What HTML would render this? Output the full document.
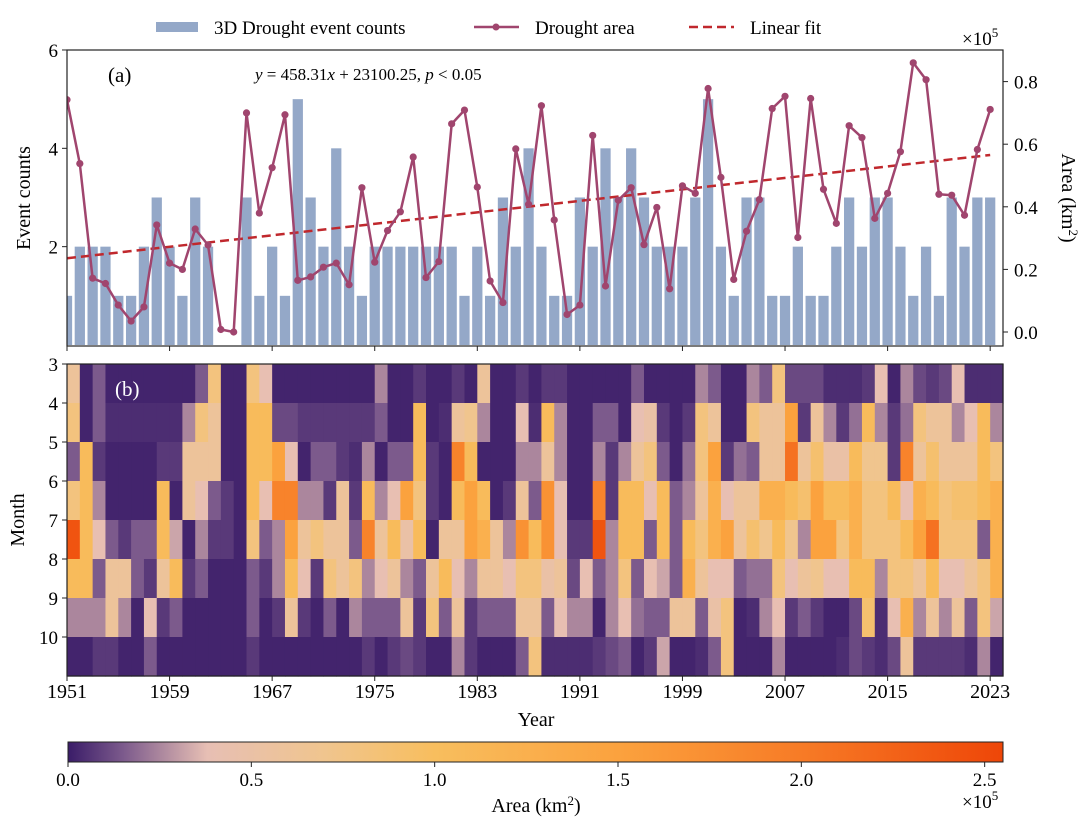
<!DOCTYPE html>
<html><head><meta charset="utf-8">
<style>
html,body{margin:0;padding:0;background:#fff;}
svg{display:block;font-family:"Liberation Serif",serif;}
</style></head>
<body>
<svg id="chart" width="1080" height="831" viewBox="0 0 1080 831" xmlns="http://www.w3.org/2000/svg">
<defs>
<linearGradient id="cbgrad" x1="0" x2="1" y1="0" y2="0">
<stop offset="0" stop-color="#3a1c68"/><stop offset="0.059" stop-color="#7c5a8c"/><stop offset="0.149" stop-color="#e7bfb4"/><stop offset="0.275" stop-color="#f0c58e"/><stop offset="0.392" stop-color="#f8be5e"/><stop offset="0.588" stop-color="#fba23e"/><stop offset="0.784" stop-color="#f77b26"/><stop offset="1" stop-color="#ee4608"/>
</linearGradient>
<clipPath id="topclip"><rect x="67" y="50" width="936" height="296"/></clipPath>
</defs>
<g id="legend">
<rect x="156" y="22" width="42" height="10" fill="#94a8c8"/>
<text x="214" y="34" font-size="19">3D Drought event counts</text>
<line x1="474" y1="27" x2="519" y2="27" stroke="#a0456e" stroke-width="2.5"/>
<circle cx="496" cy="27" r="3.5" fill="#a0456e"/>
<text x="535" y="34" font-size="19">Drought area</text>
<line x1="689" y1="27" x2="734" y2="27" stroke="#c0282d" stroke-width="2.5" stroke-dasharray="9,5"/>
<text x="750" y="34" font-size="19">Linear fit</text>
</g>
<g id="toppanel"></g>
<g id="heat"></g>
<g id="cbar"></g>
</svg>
<script>
const years = [];
for (let y = 1951; y <= 2023; y++) years.push(y);
const eventCounts = [1,2,2,2,1,1,2,3,2,1,3,2,0,0,3,1,2,1,5,3,2,4,2,1,2, 2,2,2,2,2,2,1,2,1,3,2,4,2,1,1,3,2,4,3,4,3,2,2,2, 3,5,2,1,3,3,1,1,2,1,1,2,3,2,3,3,2,1,2,1,3,2,3,3];
const droughtArea = [0.742,0.538,0.172,0.155,0.086,0.035,0.08,0.342,0.22,0.2,0.329,0.278,0.008,0.0,0.7,0.38,0.525,0.694,0.165,0.176,0.207,0.22,0.151,0.461,0.223,
0.324,0.384,0.559,0.174,0.225,0.665,0.709,0.463,0.163,0.094,0.585,0.408,0.723,0.358,0.056,0.086,0.628,0.147,0.421,0.461,0.279,0.398,0.138,0.467,
0.443,0.778,0.494,0.168,0.322,0.423,0.714,0.753,0.302,0.746,0.456,0.347,0.659,0.621,0.363,0.443,0.576,0.86,0.806,0.44,0.437,0.373,0.583,0.711];
const fitSlope = 458.31, fitIntercept = 23100.25;
const countTicks = [2,4,6];
const areaTicks = [0.0,0.2,0.4,0.6,0.8];
const yearTickLabels = [1951,1959,1967,1975,1983,1991,1999,2007,2015,2023];
const months = [3,4,5,6,7,8,9,10];
const m3 = [0.6,0.02,0.15,0.02,0.02,0.02,0.02,0.02,0.02,0.02,0.15,0.8,0.02,0.02,0.8,0.4,0.02,0.02,0.02,0.02,0.02,0.02,0.02,0.02,0.25,0.02,0.02,0.07,0.02,0.02,0.07,0.02,0.6,0.02,0.02,0.07,0.02,0.07,0.07,0.02,0.02,0.02,0.02,0.02,0.15,0.02,0.02,0.02,0.02,0.25,0.15,0.02,0.02,0.25,0.15,0.8,0.11,0.11,0.11,0.04,0.04,0.04,0.07,0.4,0.02,0.25,0.11,0.07,0.11,0.4,0.04,0.04,0.04];
const m4 = [0.8,0.02,0.15,0.04,0.04,0.04,0.04,0.04,0.04,0.25,0.8,0.6,0.02,0.02,1.05,1.05,0.11,0.11,0.07,0.07,0.07,0.07,0.07,0.07,0.15,0.02,0.02,1.05,0.02,0.04,0.6,0.7,0.25,0.02,0.02,0.4,0.04,1.05,0.25,0.02,0.02,0.15,0.15,0.02,0.4,0.5,0.07,0.02,0.07,0.8,0.6,0.02,0.02,0.8,0.6,0.6,1.5,0.07,0.6,0.25,0.07,0.2,1.05,0.25,0.07,0.2,0.8,0.6,0.6,0.25,0.4,1.05,0.25];
const m5 = [0.15,1.05,0.07,0.02,0.02,0.02,0.02,0.07,0.07,0.6,0.6,0.6,0.02,0.02,1.05,1.05,1.5,0.4,0.02,0.15,0.15,0.07,0.04,0.25,0.02,0.15,0.15,1.05,0.07,0.02,1.9,1.05,0.02,0.02,0.02,0.25,0.25,0.6,0.25,0.02,0.02,0.25,0.07,0.25,0.6,0.8,0.15,0.02,0.2,0.8,1.5,0.07,0.2,0.15,0.6,0.6,2.1,0.6,0.9,0.5,0.5,1.05,0.7,0.7,0.07,1.9,0.6,0.9,0.6,0.6,0.6,1.05,0.8];
const m6 = [0.8,1.05,0.25,0.02,0.02,0.02,0.02,1.05,0.02,0.6,0.4,0.15,0.07,0.02,1.05,0.4,1.9,1.9,0.25,0.25,0.07,0.6,0.07,1.05,0.25,0.4,1.5,0.8,0.07,0.02,1.05,1.5,1.05,0.02,0.07,0.6,0.15,1.7,0.4,0.02,0.02,1.9,0.07,1.05,1.05,0.4,1.05,0.15,0.25,0.6,1.25,0.4,0.6,0.6,1.25,1.25,1.05,0.9,1.5,1.05,1.05,1.25,0.8,0.8,1.05,0.4,1.25,1.05,0.8,0.9,0.9,1.05,1.25];
const m7 = [2.4,1.05,0.4,0.15,0.07,0.15,0.15,1.05,0.32,0.02,0.25,0.07,0.07,0.02,0.8,0.15,0.25,1.5,0.6,0.8,0.6,0.6,0.15,1.9,0.6,1.05,0.5,1.05,0.02,0.6,0.6,1.5,1.25,0.6,0.25,1.7,1.05,1.7,0.4,0.07,0.07,2.4,0.25,1.05,1.05,0.15,1.05,0.15,1.05,0.8,1.25,1.5,0.6,0.9,0.7,1.05,0.7,0.25,1.5,1.5,0.8,1.25,0.8,0.8,0.8,1.05,1.5,2.1,0.8,0.8,0.8,0.15,1.25];
const m8 = [1.05,1.05,0.15,0.6,0.6,0.15,0.07,0.6,1.05,0.07,0.15,0.02,0.02,0.02,0.15,0.07,0.25,1.05,0.4,0.07,0.8,0.6,0.8,0.25,0.4,0.6,0.25,0.15,0.6,1.05,0.4,0.25,0.6,0.6,0.4,0.8,0.8,0.5,0.6,0.11,0.4,0.15,0.25,0.8,0.15,0.4,0.32,0.15,1.25,0.6,0.4,0.4,0.15,0.2,0.2,0.8,0.4,0.6,0.7,0.4,0.4,1.05,1.05,0.25,0.8,0.8,0.6,1.05,0.4,0.4,0.6,0.8,1.25];
const m9 = [0.25,0.25,0.25,0.6,0.25,0.02,0.4,0.07,0.15,0.02,0.02,0.02,0.02,0.02,0.15,0.02,0.07,0.6,0.07,0.02,0.15,0.02,0.25,0.15,0.15,0.15,0.6,0.07,0.8,0.15,0.6,0.07,0.15,0.15,0.15,0.6,0.6,0.15,0.4,0.25,0.25,0.02,0.25,0.4,0.2,0.15,0.15,0.6,0.6,0.15,0.5,0.8,0.02,0.04,0.25,0.4,0.07,0.15,0.07,0.02,0.02,0.11,0.9,0.04,0.4,1.25,0.25,0.6,0.25,0.6,0.15,0.8,0.32];
const m10 = [0.02,0.02,0.07,0.07,0.02,0.02,0.15,0.02,0.02,0.02,0.02,0.02,0.02,0.02,0.07,0.02,0.02,0.02,0.02,0.02,0.02,0.02,0.02,0.07,0.02,0.07,0.11,0.07,0.02,0.02,0.25,0.07,0.02,0.02,0.02,0.15,0.8,0.04,0.04,0.04,0.04,0.07,0.11,0.15,0.02,0.07,0.32,0.02,0.02,0.04,0.15,0.8,0.02,0.02,0.02,0.25,0.02,0.02,0.02,0.02,0.04,0.11,0.07,0.04,0.11,0.6,0.07,0.07,0.07,0.07,0.04,0.25,0.02];
const heatRows = [m3,m4,m5,m6,m7,m8,m9,m10];
const cbarTicks = [0.0,0.5,1.0,1.5,2.0,2.5];

const NS = "http://www.w3.org/2000/svg";
function mk(parent, tag, attrs, text) {
  const e = document.createElementNS(NS, tag);
  for (const k in attrs) e.setAttribute(k, attrs[k]);
  if (text !== undefined) e.textContent = text;
  parent.appendChild(e);
  return e;
}
const X0 = 67, X1 = 1003, N = years.length, CW = (X1 - X0) / N;
const xEdge = i => X0 + i * CW;
const yCount = v => 345 - v * 49.17;
const yArea = v => 332 - v * 313;
const HY0 = 364, RH = 39;
const CMAX = 2.55;
const stops = [[0,[58,28,104]],[0.15,[124,90,140]],[0.38,[231,191,180]],[0.7,[240,197,142]],[1.0,[248,190,94]],[1.5,[251,162,62]],[2.0,[247,123,38]],[2.55,[238,70,8]]];
function cmap(v) {
  v = Math.max(0, Math.min(CMAX, v));
  for (let i = 1; i < stops.length; i++) {
    if (v <= stops[i][0]) {
      const a = stops[i-1], b = stops[i], t = (v - a[0]) / (b[0] - a[0]);
      const c = a[1].map((x, k) => Math.round(x + (b[1][k] - x) * t));
      return "rgb(" + c.join(",") + ")";
    }
  }
  return "rgb(238,70,8)";
}

// ---------- top panel ----------
const topPanel = document.getElementById("toppanel");


const plotArea = mk(topPanel, "g", {"clip-path": "url(#topclip)"});


eventCounts.forEach((c, i) => {
  if (c <= 0) return;
  const r = mk(plotArea, "rect", {x: xEdge(i) - CW*0.4, y: yCount(c), width: CW*0.8, height: yCount(0) - yCount(c), fill: "#94a8c8"});
  
  
});
const fx0 = 0, fx1 = N - 1;
const fit = mk(plotArea, "line", {x1: xEdge(fx0), y1: yArea((fitSlope*(fx0+1)+fitIntercept)/1e5), x2: xEdge(fx1), y2: yArea((fitSlope*(fx1+1)+fitIntercept)/1e5), stroke: "#c0282d", "stroke-width": 2.5, "stroke-dasharray": "9,5"});


const pts = droughtArea.map((v, i) => xEdge(i).toFixed(1) + "," + yArea(v).toFixed(1)).join(" ");
const pl = mk(plotArea, "polyline", {points: pts, fill: "none", stroke: "#a0456e", "stroke-width": 2.5, "stroke-linejoin": "round"});


droughtArea.forEach((v, i) => {
  const c = mk(plotArea, "circle", {cx: xEdge(i), cy: yArea(v), r: 3.6, fill: "#a0456e"});
  
  
});
const frame = mk(topPanel, "rect", {x: X0, y: 50, width: X1 - X0, height: 296, fill: "none", stroke: "#222", "stroke-width": 1.2});


countTicks.forEach(t => {
  const y = yCount(t);
  const l = mk(topPanel, "line", {x1: X0 - 5, y1: y, x2: X0, y2: y, stroke: "#222", "stroke-width": 1});
  
  
  const tx = mk(topPanel, "text", {x: X0 - 9, y: y + 7, "font-size": 19, "text-anchor": "end"}, String(t));
  
  
});
areaTicks.forEach(t => {
  const y = yArea(t);
  const l = mk(topPanel, "line", {x1: X1, y1: y, x2: X1 + 5, y2: y, stroke: "#222", "stroke-width": 1});
  
  
  const tx = mk(topPanel, "text", {x: X1 + 11, y: y + 7, "font-size": 19}, t.toFixed(1));
  
  
});
for (let k = 0; k < yearTickLabels.length; k++) {
  const l = mk(topPanel, "line", {x1: xEdge(k*8), y1: 346, x2: xEdge(k*8), y2: 351, stroke: "#222", "stroke-width": 1});
  
  
}
let t1 = mk(topPanel, "text", {x: 30, y: 198, "font-size": 20, "text-anchor": "middle", transform: "rotate(-90 30 198)"}, "Event counts");


let t2 = mk(topPanel, "text", {x: 1062, y: 198, "font-size": 20, "text-anchor": "middle", transform: "rotate(90 1062 198)"});


t2.innerHTML = 'Area (km<tspan font-size="13" dy="-7">2</tspan><tspan dy="7">)</tspan>';
let t3 = mk(topPanel, "text", {x: 962, y: 45, "font-size": 19});


t3.innerHTML = '×10<tspan font-size="13" dy="-8">5</tspan>';
let t4 = mk(topPanel, "text", {x: 108, y: 82, "font-size": 21}, "(a)");


let t5 = mk(topPanel, "text", {x: 255, y: 80, "font-size": 17});


t5.innerHTML = '<tspan font-style="italic">y</tspan> = 458.31<tspan font-style="italic">x</tspan> + 23100.25, <tspan font-style="italic">p</tspan> &lt; 0.05';

// ---------- heatmap ----------
const heat = document.getElementById("heat");


heatRows.forEach((row, r) => {
  row.forEach((v, i) => {
    const c = mk(heat, "rect", {x: xEdge(i), y: HY0 + r*RH, width: CW + 0.6, height: RH + 0.6, fill: cmap(v)});
    
    
  });
});
const hf = mk(heat, "rect", {x: X0, y: HY0, width: X1 - X0, height: RH*8, fill: "none", stroke: "#222", "stroke-width": 1.2});


months.forEach((m, r) => {
  const y = HY0 + r*RH;
  const l = mk(heat, "line", {x1: X0 - 5, y1: y, x2: X0, y2: y, stroke: "#222", "stroke-width": 1});
  
  
  const tx = mk(heat, "text", {x: X0 - 9, y: y + 7, "font-size": 19, "text-anchor": "end"}, String(m));
  
  
});
yearTickLabels.forEach((yl, k) => {
  const x = xEdge(k*8);
  const l = mk(heat, "line", {x1: x, y1: HY0 + RH*8, x2: x, y2: HY0 + RH*8 + 5, stroke: "#222", "stroke-width": 1});
  
  
  const tx = mk(heat, "text", {x: x, y: 698, "font-size": 20, "text-anchor": "middle"}, String(yl));
  
  
});
let h1 = mk(heat, "text", {x: 536, y: 726, "font-size": 20, "text-anchor": "middle"}, "Year");


let h2 = mk(heat, "text", {x: 24, y: 520, "font-size": 20, "text-anchor": "middle", transform: "rotate(-90 24 520)"}, "Month");


let h3 = mk(heat, "text", {x: 115, y: 396, "font-size": 21, fill: "#fff"}, "(b)");



// ---------- colorbar ----------
const cb = document.getElementById("cbar");


const CB0 = 68, CB1 = 1003;
const cbx = v => CB0 + v / CMAX * (CB1 - CB0);
const cr = mk(cb, "rect", {x: CB0, y: 742, width: CB1 - CB0, height: 20, fill: "url(#cbgrad)", stroke: "#222", "stroke-width": 1});


cbarTicks.forEach(t => {
  const x = cbx(t);
  const l = mk(cb, "line", {x1: x, y1: 762, x2: x, y2: 767, stroke: "#222", "stroke-width": 1});
  
  
  const tx = mk(cb, "text", {x: x, y: 786, "font-size": 19, "text-anchor": "middle"}, t.toFixed(1));
  
  
});
let c1 = mk(cb, "text", {x: 536, y: 812, "font-size": 20, "text-anchor": "middle"});


c1.innerHTML = 'Area (km<tspan font-size="13" dy="-7">2</tspan><tspan dy="7">)</tspan>';
let c2 = mk(cb, "text", {x: 962, y: 808, "font-size": 19});


c2.innerHTML = '×10<tspan font-size="13" dy="-8">5</tspan>';
</script>
</body></html>
